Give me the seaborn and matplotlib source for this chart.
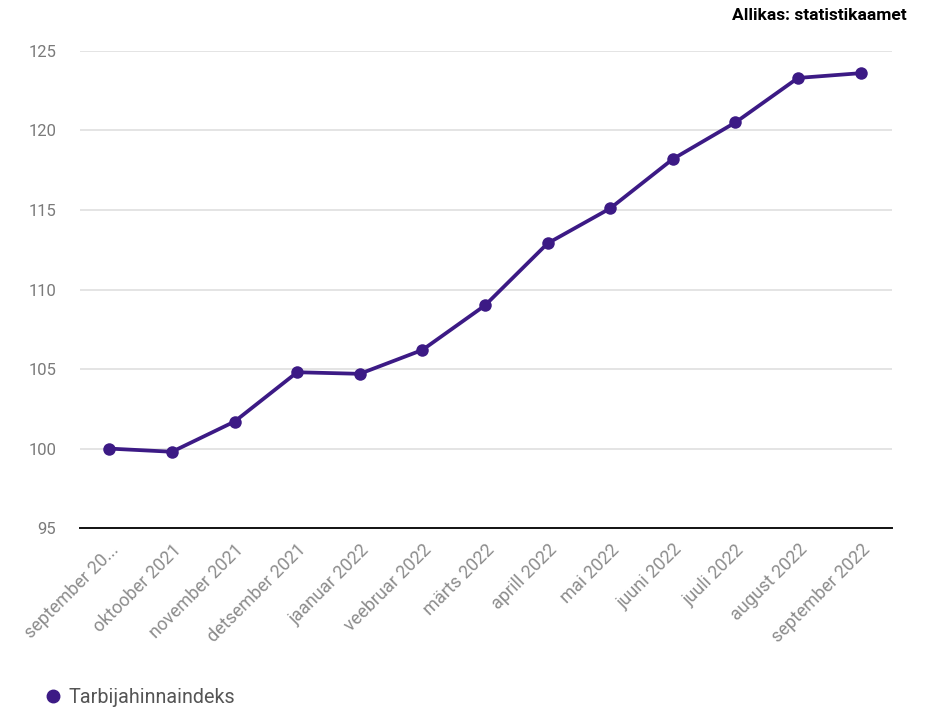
import matplotlib
matplotlib.use("Agg")
import matplotlib.pyplot as plt
from matplotlib.lines import Line2D
import seaborn as sns
import pandas as pd

months = ["september 20...", "oktoober 2021", "november 2021", "detsember 2021",
          "jaanuar 2022", "veebruar 2022", "märts 2022", "aprill 2022", "mai 2022",
          "juuni 2022", "juuli 2022", "august 2022", "september 2022"]
values = [100.0, 99.8, 101.7, 104.8, 104.7, 106.2, 109.0, 112.9, 115.1,
          118.2, 120.5, 123.3, 123.6]
series_name = "Tarbijahinnaindeks"
yticks = [95, 100, 105, 110, 115, 120, 125]

sns.set_theme(style="white")
plt.rcParams['font.family'] = ['Roboto', 'DejaVu Sans']

color = "#3c1a85"
df = pd.DataFrame({"pos": list(range(len(months))), "value": values})

fig = plt.figure(figsize=(9.3, 7.07), dpi=100)
ax = fig.add_axes([0.086, 0.253, 0.873, 0.675])
sns.lineplot(data=df, x="pos", y="value", ax=ax, color=color, linewidth=2.7,
             marker="o", markersize=9, markeredgewidth=0, legend=False)

ax.set_ylim(95, 125)
ax.set_xlim(-0.47, 12.5)
ax.set_yticks(yticks)
ax.set_yticklabels([str(v) for v in yticks], color="#7a7a7a", fontsize=12)
ax.set_xticks(range(len(months)))
ax.set_xticklabels(months, rotation=45, ha="right", rotation_mode="anchor",
                   color="#8c8c8c", fontsize=13)
ax.tick_params(axis="both", length=0)
ax.tick_params(axis="x", pad=9)
ax.tick_params(axis="y", pad=17)
ax.grid(axis="y", color="#dddddd", linewidth=1.1)
for s in ["top", "right", "left"]:
    ax.spines[s].set_visible(False)
ax.spines["bottom"].set_color("#111111")
ax.spines["bottom"].set_linewidth(1.4)
ax.set_xlabel("")
ax.set_ylabel("")

fig.text(0.975, 0.978, "Allikas: statistikaamet", ha="right", va="center",
         fontsize=12.5, color="black", fontweight="bold")

handle = Line2D([], [], marker="o", linestyle="", color=color, markersize=9)
fig.legend([handle], [series_name], loc="center left",
           bbox_to_anchor=(0.028, 0.014), frameon=False, fontsize=14.2,
           labelcolor="#555555", handletextpad=0.35, handlelength=0.9)

fig.savefig("out.png", dpi=100)
